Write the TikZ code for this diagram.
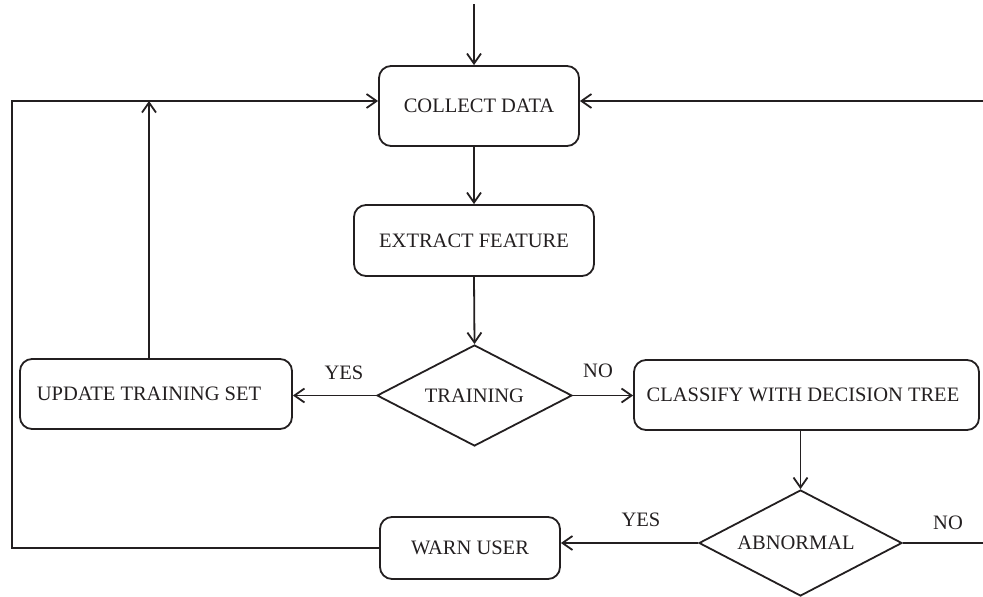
\documentclass[tikz,border=0pt]{standalone}
\usepackage{fontspec}
\setmainfont{Liberation Serif}
\usetikzlibrary{shapes.geometric,arrows.meta}
\definecolor{ink}{HTML}{231F20}
\tikzset{
  x=1pt, y=-1pt,
  every node/.style={font=\fontsize{20.5}{24}\selectfont, text=ink},
  box/.style={draw=ink, line width=1.8pt, rounded corners=12pt, inner sep=0pt},
  dec/.style={draw=ink, line width=1.8pt, diamond, inner sep=0pt},
  conn/.style={draw=ink, line width=1.8pt},
  arr/.style={conn, -{Straight Barb[length=10pt,width=14pt,line width=1.8pt]}},
  lab/.style={inner sep=0pt}
}
\begin{document}
\begin{tikzpicture}
\useasboundingbox (0,0) rectangle (983,597);
% nodes
\node[box, minimum width=200pt, minimum height=80pt] (col) at (479,106) {COLLECT DATA};
\node[box, minimum width=240pt, minimum height=71pt] (ext) at (474,240.5) {EXTRACT FEATURE};
\node[dec, minimum width=195pt, minimum height=101pt] (trn) at (474.5,395.5) {\makebox[0pt]{TRAINING}};
\node[box, minimum width=272pt, minimum height=70pt] (upd) at (156,394) {\makebox[0pt]{\hspace{-14pt}UPDATE TRAINING SET}};
\node[box, minimum width=345pt, minimum height=70pt] (cls) at (806.5,395) {\makebox[0pt]{\hspace{-7pt}CLASSIFY WITH DECISION TREE}};
\node[dec, minimum width=203pt, minimum height=106pt] (abn) at (800.5,543) {\makebox[0pt]{\hspace{-9pt}ABNORMAL}};
\node[box, minimum width=180pt, minimum height=62pt] (wrn) at (470,548) {WARN USER};
% free ends
\coordinate (top) at (474,4);
\coordinate (lx) at (12,101);
\coordinate (rx) at (983,101);
\coordinate (nx) at (983,543);
% connectors
\draw[arr] (top) -- (top |- col.north);
\draw[arr] (ext.north |- col.south) -- (ext.north);
\draw[arr] (ext.south) -- (trn.north);
\draw[arr] (trn.west) -- (trn.west -| upd.east);
\draw[arr] (trn.east) -- (trn.east -| cls.west);
\draw[arr] (abn.north |- cls.south) -- (abn.north);
\draw[arr] (abn.west) -- (abn.west -| wrn.east);
\draw[conn] (abn.east) -- (nx);
\draw[arr] (wrn.west) -- (wrn.west -| lx) -- (lx) -- (lx -| col.west);
\draw[arr] (rx) -- (rx -| col.east);
\draw[arr] ([xshift=-7pt]upd.north) -- ([xshift=-7pt]upd.north |- lx);
% labels
\node[lab] (yes1) at (344,373) {YES};
\node[lab] (no1) at (598,371) {NO};
\node[lab] (yes2) at (641,520) {YES};
\node[lab] (no2) at (948,523) {NO};
\end{tikzpicture}
\end{document}
